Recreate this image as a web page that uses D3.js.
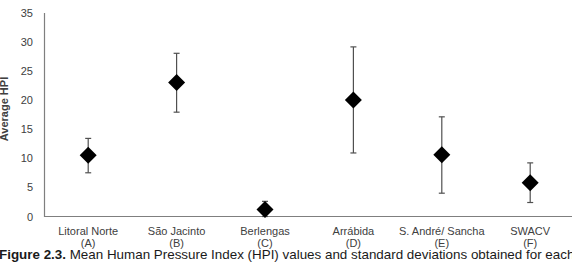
<!DOCTYPE html>
<html>
    <head>
        <meta charset="utf-8">
        <script src="https://d3js.org/d3.v7.min.js"></script>
        <style>
            body { margin: 0; background: #fff; }
            svg { display: block; font-family: Arial, "Liberation Sans", sans-serif; }
        </style>
    </head>
    <body>

        <script>
            var sites   = ['Litoral Norte', 'São Jacinto', 'Berlengas', 'Arrábida', 'S. André/ Sancha', 'SWACV'];
            var letters = ['(A)', '(B)', '(C)', '(D)', '(E)', '(F)'];
            var means   = [10.5, 23.0, 1.2, 20.0, 10.6, 5.8];
            var upper   = [13.4, 28.0, 2.6, 29.1, 17.1, 9.2];
            var lower   = [7.5, 17.9, 0, 10.9, 4.0, 2.4];
            var yTicks  = [0, 5, 10, 15, 20, 25, 30, 35];

            var width = 572, height = 272;
            var plotLeft = 44, plotTop = 12.5, plotBottom = 216.5;

            var svg = d3.select('body')
                        .append('svg')
                        .attr('width', width)
                        .attr('height', height);

            var x = d3.scaleBand()
                        .domain(sites)
                        .range([plotLeft, plotLeft + 6 * 88.4]);

            var y = d3.scaleLinear()
                        .domain([0, 35])
                        .range([plotBottom, plotTop]);

            // y axis
            var yAxis = svg.append('g')
                        .attr('transform', 'translate(' + plotLeft + ',0)')
                        .call(d3.axisLeft(y).tickValues(yTicks).tickSize(0).tickPadding(11));
            yAxis.select('.domain').attr('stroke', '#7f7f7f').attr('stroke-width', 1.2);
            yAxis.selectAll('text')
                        .attr('font-size', '11px')
                        .attr('font-family', 'Arial, "Liberation Sans", sans-serif')
                        .attr('fill', '#404040');

            // x axis line
            svg.append('line')
                        .attr('x1', plotLeft).attr('x2', width + 10)
                        .attr('y1', y(0)).attr('y2', y(0))
                        .attr('stroke', '#7f7f7f')
                        .attr('stroke-width', 1.2);

            svg.append('text')
                        .attr('transform', 'translate(7.5,' + 109 + ') rotate(-90)')
                        .attr('text-anchor', 'middle')
                        .attr('font-size', '11px')
                        .attr('font-weight', 'bold')
                        .attr('fill', '#404040')
                        .text('Average HPI');

            var cx = function(d) { return x(d) + x.bandwidth() / 2; };

            var g = svg.selectAll('g.site')
                        .data(sites)
                        .enter().append('g')
                                .attr('class', 'site');

            g.append('line')
                    .attr('x1', cx).attr('x2', cx)
                    .attr('y1', function(d, i) { return y(upper[i]); })
                    .attr('y2', function(d, i) { return y(lower[i]); })
                    .attr('stroke', '#505050')
                    .attr('stroke-width', 1.2);

            [upper, lower].forEach(function(arr) {
                g.append('line')
                    .attr('x1', function(d) { return cx(d) - 3; })
                    .attr('x2', function(d) { return cx(d) + 3; })
                    .attr('y1', function(d, i) { return y(arr[i]); })
                    .attr('y2', function(d, i) { return y(arr[i]); })
                    .attr('stroke', '#505050')
                    .attr('stroke-width', 1.2);
            });

            g.append('path')
                    .attr('d', 'M0,-8.5L8.5,0L0,8.5L-8.5,0Z')
                    .attr('transform', function(d, i) { return 'translate(' + cx(d) + ',' + y(means[i]) + ')'; })
                    .attr('fill', '#000');

            g.append('text')
                    .attr('x', cx)
                    .attr('y', 235)
                    .attr('text-anchor', 'middle')
                    .attr('font-size', '11px')
                    .attr('fill', '#404040')
                    .text(function(d) { return d; });

            g.append('text')
                    .attr('x', cx)
                    .attr('y', 247)
                    .attr('text-anchor', 'middle')
                    .attr('font-size', '11px')
                    .attr('fill', '#404040')
                    .text(function(d, i) { return letters[i]; });

            var caption = svg.append('text')
                    .attr('x', -1)
                    .attr('y', 259)
                    .attr('font-size', '13.4px')
                    .attr('fill', '#1a1a1a');
            caption.append('tspan')
                    .attr('font-weight', 'bold')
                    .text('Figure 2.3.');
            caption.append('tspan')
                    .text(' Mean Human Pressure Index (HPI) values and standard deviations obtained for each');

        </script>
    </body>
</html>
